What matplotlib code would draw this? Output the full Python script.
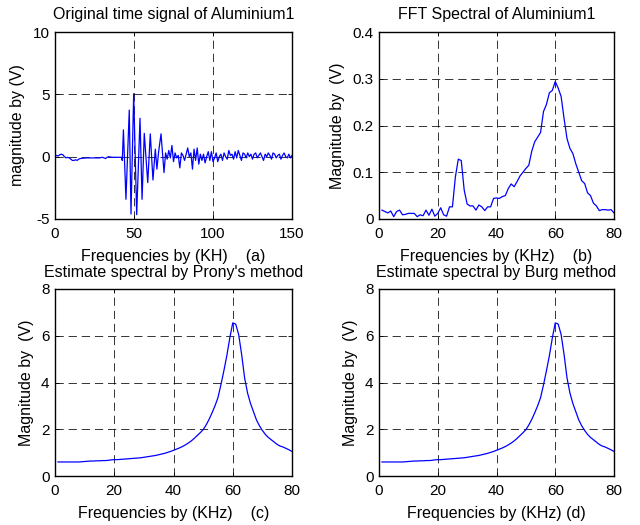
import numpy as np
import matplotlib
matplotlib.use("Agg")
import matplotlib.pyplot as plt

plt.rcParams['font.family'] = ['Liberation Sans', 'DejaVu Sans']
plt.rcParams['axes.unicode_minus'] = False

# (a) time signal, in three stretches: quiet lead-in, burst, ringing tail
quiet_t = [0, 1, 2, 3, 4, 5, 6, 7, 8, 9, 10, 11, 12, 13, 14, 15, 16, 18, 20, 22, 24,
           26, 28, 30, 31, 32, 33, 34, 36, 38, 40, 41, 42]
quiet_v = [0.05, 0.1, 0.05, 0.15, 0.2, 0.15, 0.0, -0.1, -0.05, -0.1,
           -0.2, -0.3, -0.3, -0.25, -0.3, -0.2, -0.15, -0.12, -0.1, -0.1,
           -0.1, -0.1, -0.1, -0.05, -0.1, -0.15, -0.05, 0.0, -0.05, -0.05,
           -0.05, -0.05, -0.05]

burst_t = [42.6, 43.3, 44.9, 47.0, 48.1, 49.8, 51.7, 53.8, 55.1, 56.5, 58.7, 60.3,
           62.0, 63.5, 64.5, 65.5, 67.1, 69.0]
burst_v = [-0.3, 2.15, -3.42, 3.74, -4.6, 5.05, -4.65, 3.08, -3.42, 1.87, -2.08, 1.83,
           -1.87, 0.6, -1.0, 0.3, 1.83, -1.28]

tail_t = list(range(70, 151))
tail_v = [0.3, -0.2, 0.5, -0.1, 0.9, -0.4, 0.3, -0.1, 0.1, -0.9,
          0.3, 0.1, -0.3, 0.2, 0.7, 0.0, 0.3, -1.0, 0.6, -0.3,
          0.7, -0.6, 0.2, -0.3, 0.2, -0.5, 0.0, 0.4, -0.3, 0.4,
          -0.4, -0.1, 0.3, -0.4, 0.0, 0.2, -0.3, 0.3, 0.0, -0.2,
          0.5, 0.1, 0.2, -0.2, 0.4, -0.1, 0.5, 0.1, -0.3, 0.3,
          0.2, -0.1, 0.3, 0.0, 0.2, -0.2, 0.2, 0.3, -0.1, 0.1,
          0.3, 0.0, -0.3, 0.2, 0.0, 0.3, 0.1, -0.2, 0.3, 0.2,
          -0.1, 0.1, 0.2, -0.2, 0.1, 0.3, 0.0, -0.1, 0.2, -0.1, 0.1]

sig_t = quiet_t + burst_t + tail_t
sig_v = quiet_v + burst_v + tail_v

# (b)-(d) frequency axis in kHz
freq_khz = list(range(1, 81))

fft_mag = [0.019, 0.016, 0.013, 0.017, 0.005, 0.016, 0.019, 0.009, 0.010, 0.012,
           0.012, 0.012, 0.005, 0.009, 0.007, 0.019, 0.008, 0.021, 0.006, 0.012,
           0.024, 0.009, 0.006, 0.026, 0.026, 0.090, 0.128, 0.125, 0.062, 0.032,
           0.028, 0.028, 0.019, 0.030, 0.026, 0.018, 0.026, 0.026, 0.044, 0.045,
           0.044, 0.048, 0.050, 0.065, 0.075, 0.069, 0.080, 0.092, 0.100, 0.108,
           0.115, 0.145, 0.165, 0.175, 0.185, 0.230, 0.245, 0.270, 0.275, 0.294,
           0.280, 0.262, 0.215, 0.172, 0.151, 0.140, 0.118, 0.100, 0.082, 0.076,
           0.056, 0.050, 0.034, 0.028, 0.018, 0.020, 0.020, 0.019, 0.020, 0.013]

prony_mag = [0.60, 0.60, 0.60, 0.60, 0.60, 0.60, 0.60, 0.60, 0.61, 0.62,
             0.63, 0.64, 0.64, 0.65, 0.65, 0.66, 0.66, 0.67, 0.69, 0.70,
             0.70, 0.71, 0.72, 0.73, 0.74, 0.75, 0.76, 0.77, 0.78, 0.80,
             0.82, 0.84, 0.86, 0.88, 0.91, 0.94, 0.97, 1.01, 1.05, 1.10,
             1.15, 1.20, 1.26, 1.33, 1.41, 1.50, 1.61, 1.73, 1.85, 1.98,
             2.18, 2.42, 2.70, 3.00, 3.35, 3.90, 4.50, 5.15, 5.90, 6.55,
             6.50, 6.05, 5.20, 4.20, 3.55, 3.10, 2.75, 2.40, 2.15, 1.95,
             1.78, 1.65, 1.55, 1.45, 1.35, 1.28, 1.24, 1.18, 1.12, 1.05]

burg_mag = [0.60, 0.60, 0.60, 0.60, 0.60, 0.60, 0.60, 0.60, 0.61, 0.62,
            0.63, 0.64, 0.64, 0.65, 0.65, 0.66, 0.66, 0.67, 0.69, 0.70,
            0.70, 0.71, 0.72, 0.73, 0.74, 0.75, 0.76, 0.77, 0.78, 0.80,
            0.82, 0.84, 0.86, 0.88, 0.91, 0.94, 0.97, 1.01, 1.05, 1.10,
            1.15, 1.20, 1.26, 1.33, 1.41, 1.50, 1.61, 1.73, 1.85, 1.98,
            2.18, 2.42, 2.70, 3.00, 3.35, 3.90, 4.50, 5.15, 5.90, 6.55,
            6.50, 6.05, 5.20, 4.20, 3.55, 3.10, 2.75, 2.40, 2.15, 1.95,
            1.78, 1.65, 1.55, 1.45, 1.35, 1.28, 1.24, 1.18, 1.12, 1.05]

TEXT_FS = 11.5
TICK_FS = 11

fig = plt.figure(figsize=(6.4, 5.25), dpi=100)
fig.patch.set_facecolor('white')

W, H = 640.0, 525.0


def make_axes(left, top, right, bottom):
    return fig.add_axes([left / W, 1 - bottom / H, (right - left) / W, (bottom - top) / H])


def style(ax, xlim, ylim, xticks, yticks, title, xlabel, ylabel):
    ax.set_xlim(*xlim)
    ax.set_ylim(*ylim)
    ax.set_xticks(xticks)
    ax.set_yticks(yticks)
    ax.set_title(title, fontsize=TEXT_FS, pad=9)
    ax.set_xlabel(xlabel, fontsize=TEXT_FS, labelpad=5.5)
    ax.set_ylabel(ylabel, fontsize=TEXT_FS, labelpad=5)
    ax.tick_params(direction='in', length=3, width=0.6, labelsize=TICK_FS,
                   top=True, right=True)
    ax.tick_params(axis='x', pad=6)
    ax.tick_params(axis='y', pad=4)
    ax.grid(True, color='black', linestyle=(0, (8.5, 5)), linewidth=0.7, alpha=0.8)
    for s in ax.spines.values():
        s.set_linewidth(1.0)
        s.set_color('black')


ax_a = make_axes(55, 32, 292, 219)
ax_a.plot(sig_t, sig_v, color='#0000ff', linewidth=0.9)
style(ax_a, (0, 150), (-5, 10), [0, 50, 100, 150], [-5, 0, 5, 10],
      'Original time signal of Aluminium1', 'Frequencies by (KH)    (a)',
      'magnitude by (V)')

ax_b = make_axes(379, 32, 614, 219)
ax_b.plot(freq_khz, fft_mag, color='#0000ff', linewidth=0.9)
style(ax_b, (0, 80), (0, 0.4), [0, 20, 40, 60, 80], [0, 0.1, 0.2, 0.3, 0.4],
      'FFT Spectral of Aluminium1', 'Frequencies by (KHz)    (b)',
      'Magnitude by  (V)')
ax_b.set_yticklabels(['0', '0.1', '0.2', '0.3', '0.4'])

ax_c = make_axes(55, 289, 292, 476)
ax_c.plot(freq_khz, prony_mag, color='#0000ff', linewidth=0.9)
style(ax_c, (0, 80), (0, 8), [0, 20, 40, 60, 80], [0, 2, 4, 6, 8],
      "Estimate spectral by Prony's method", 'Frequencies by (KHz)    (c)',
      'Magnitude by  (V)')

ax_d = make_axes(379, 289, 614, 476)
ax_d.plot(freq_khz, burg_mag, color='#0000ff', linewidth=0.9)
style(ax_d, (0, 80), (0, 8), [0, 20, 40, 60, 80], [0, 2, 4, 6, 8],
      'Estimate spectral by Burg method', 'Frequencies by (KHz) (d)',
      'Magnitude by  (V)')

fig.savefig('out.png', dpi=100, facecolor='white')
